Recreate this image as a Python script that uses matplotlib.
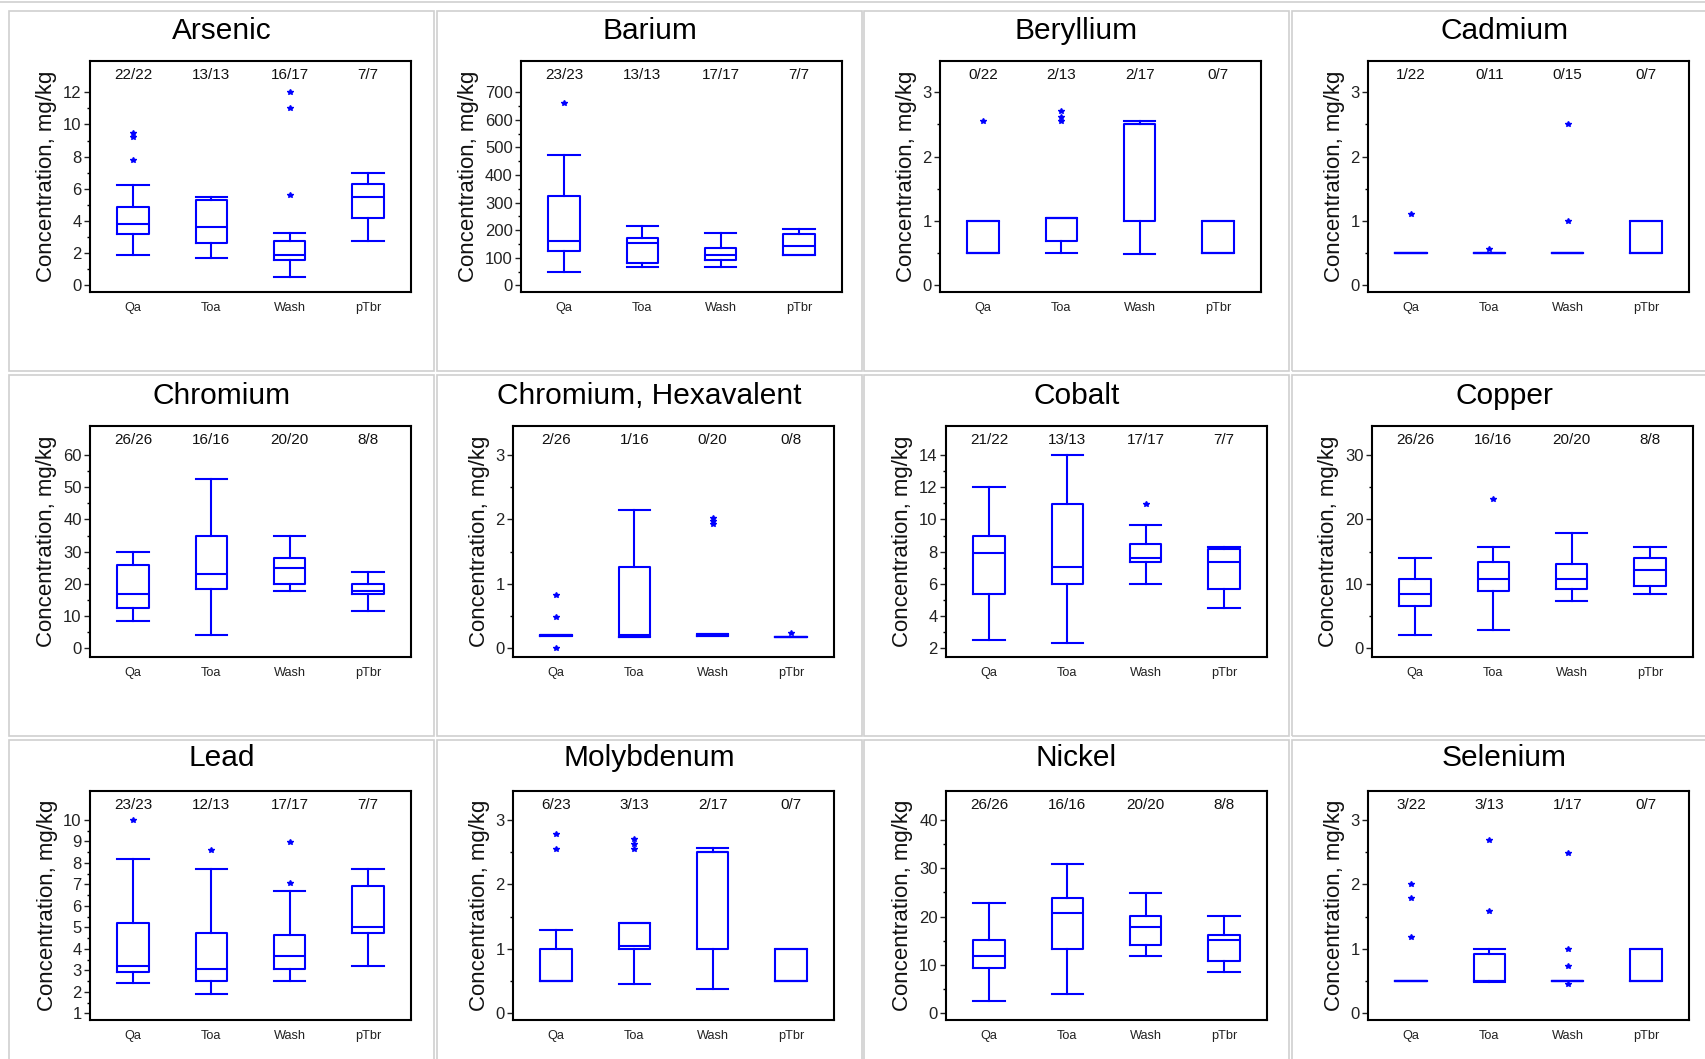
import matplotlib
matplotlib.use("Agg")
import numpy as np
import matplotlib.pyplot as plt
from matplotlib.patches import Rectangle

plt.rcParams['font.family'] = ['Liberation Sans', 'DejaVu Sans']

# ---------------- data ----------------
groups = ["Qa", "Toa", "Wash", "pTbr"]
elements = ["Arsenic", "Barium", "Beryllium", "Cadmium",
            "Chromium", "Chromium, Hexavalent", "Cobalt", "Copper",
            "Lead", "Molybdenum", "Nickel", "Selenium"]

# (whisker low, Q1, median, Q3, whisker high) per group
arsenic_stats = [(1.9, 3.17, 3.8, 4.85, 6.24), (1.7, 2.63, 3.6, 5.28, 5.49),
                 (0.54, 1.6, 1.91, 2.76, 3.27), (2.76, 4.21, 5.47, 6.32, 6.96)]
arsenic_fliers = [[7.8, 9.25, 9.45], [], [5.6, 11.05, 12.04], []]
arsenic_counts = ["22/22", "13/13", "16/17", "7/7"]

barium_stats = [(50, 123, 161, 325, 474), (68, 80, 155, 173, 215),
                (68, 93, 111, 135, 191), (110, 110, 141, 185, 203)]
barium_fliers = [[662], [], [], []]
barium_counts = ["23/23", "13/13", "17/17", "7/7"]

beryllium_stats = [(0.5, 0.5, 0.5, 1.0, 1.0), (0.5, 0.69, 1.05, 1.05, 1.05),
                   (0.48, 1.0, 2.5, 2.5, 2.56), (0.5, 0.5, 0.5, 1.0, 1.0)]
beryllium_fliers = [[2.56], [2.56, 2.62, 2.71], [], []]
beryllium_counts = ["0/22", "2/13", "2/17", "0/7"]

cadmium_stats = [(0.5, 0.5, 0.5, 0.5, 0.5), (0.5, 0.5, 0.5, 0.5, 0.5),
                 (0.5, 0.5, 0.5, 0.5, 0.5), (0.5, 0.5, 0.5, 1.0, 1.0)]
cadmium_fliers = [[1.11], [0.56], [1.0, 2.51], []]
cadmium_counts = ["1/22", "0/11", "0/15", "0/7"]

chromium_stats = [(8.4, 12.6, 16.8, 25.8, 30.0), (4.2, 18.4, 23.1, 34.8, 52.7),
                  (17.8, 20.0, 24.8, 27.9, 34.8), (11.5, 16.9, 17.8, 20.0, 23.7)]
chromium_fliers = [[], [], [], []]
chromium_counts = ["26/26", "16/16", "20/20", "8/8"]

chromium6_stats = [(0.19, 0.19, 0.2, 0.21, 0.21), (0.18, 0.18, 0.21, 1.26, 2.14),
                   (0.19, 0.19, 0.2, 0.22, 0.22), (0.18, 0.18, 0.18, 0.18, 0.18)]
chromium6_fliers = [[0.0, 0.49, 0.82], [], [1.93, 1.98, 2.03], [0.24]]
chromium6_counts = ["2/26", "1/16", "0/20", "0/8"]

cobalt_stats = [(2.52, 5.37, 7.9, 8.95, 12.0), (2.33, 5.99, 7.05, 10.94, 14.0),
                (5.99, 7.36, 7.59, 8.5, 9.68), (4.52, 5.68, 7.36, 8.19, 8.29)]
cobalt_fliers = [[], [], [10.96], []]
cobalt_counts = ["21/22", "13/13", "17/17", "7/7"]

copper_stats = [(2.12, 6.57, 8.38, 10.81, 13.97), (2.9, 8.9, 10.81, 13.4, 15.72),
                (7.34, 9.21, 10.81, 13.14, 17.84), (8.43, 9.72, 12.1, 13.97, 15.72)]
copper_fliers = [[], [23.1], [], []]
copper_counts = ["26/26", "16/16", "20/20", "8/8"]

lead_stats = [(2.43, 2.91, 3.2, 5.19, 8.2), (1.88, 2.52, 3.06, 4.72, 7.72),
              (2.52, 3.06, 3.68, 4.64, 6.69), (3.21, 4.72, 5.03, 6.94, 7.72)]
lead_fliers = [[10.0], [8.59], [7.08, 8.99], []]
lead_counts = ["23/23", "12/13", "17/17", "7/7"]

molybdenum_stats = [(0.5, 0.5, 0.5, 1.0, 1.29), (0.45, 1.0, 1.05, 1.4, 1.4),
                    (0.38, 1.0, 2.5, 2.5, 2.56), (0.5, 0.5, 0.5, 1.0, 1.0)]
molybdenum_fliers = [[2.55, 2.79], [2.55, 2.62, 2.7], [], []]
molybdenum_counts = ["6/23", "3/13", "2/17", "0/7"]

nickel_stats = [(2.48, 9.45, 11.9, 15.1, 22.8), (3.93, 13.4, 20.8, 23.9, 30.9),
                (11.9, 14.1, 17.9, 20.1, 24.9), (8.48, 10.9, 15.1, 16.1, 20.1)]
nickel_fliers = [[], [], [], []]
nickel_counts = ["26/26", "16/16", "20/20", "8/8"]

selenium_stats = [(0.5, 0.5, 0.5, 0.5, 0.5), (0.48, 0.5, 0.5, 0.92, 1.0),
                  (0.5, 0.5, 0.5, 0.5, 0.5), (0.5, 0.5, 0.5, 1.0, 1.0)]
selenium_fliers = [[1.19, 1.79, 2.0], [1.59, 2.69], [0.45, 0.73, 1.0, 2.49], []]
selenium_counts = ["3/22", "3/13", "1/17", "0/7"]

all_stats = [arsenic_stats, barium_stats, beryllium_stats, cadmium_stats,
             chromium_stats, chromium6_stats, cobalt_stats, copper_stats,
             lead_stats, molybdenum_stats, nickel_stats, selenium_stats]
all_fliers = [arsenic_fliers, barium_fliers, beryllium_fliers, cadmium_fliers,
              chromium_fliers, chromium6_fliers, cobalt_fliers, copper_fliers,
              lead_fliers, molybdenum_fliers, nickel_fliers, selenium_fliers]
all_counts = [arsenic_counts, barium_counts, beryllium_counts, cadmium_counts,
              chromium_counts, chromium6_counts, cobalt_counts, copper_counts,
              lead_counts, molybdenum_counts, nickel_counts, selenium_counts]

# y tick range (first tick, last tick, step)
y_ticks = [(0, 12, 2), (0, 700, 100), (0, 3, 1), (0, 3, 1),
           (0, 60, 10), (0, 3, 1), (2, 14, 2), (0, 30, 10),
           (1, 10, 1), (0, 3, 1), (0, 40, 10), (0, 3, 1)]

# ---------------- layout (pixels) ----------------
W, H = 1705, 1059
fig = plt.figure(figsize=(W / 100, H / 100), dpi=100)

col_cells = [(9, 434), (437, 862), (864, 1289), (1292, 1717)]
row_cells = [(11, 371), (375, 736), (740, 1100)]
ax_left = [90, 521, 940, 1368, 90, 513, 946, 1372, 90, 513, 946, 1368]
ax_w = 321
row_ax = [(61, 292), (426, 657), (791, 1020)]
row_pads = [(6.7, 31.3), (8.7, 29.0), (6.7, 29.0)]  # bottom, top pad to ticks
title_off = [20, 21, 18]

BLUE = "#0000ff"
GRAY = "#cfcfcf"

# cell borders
for (y0, y1) in row_cells:
    for (x0, x1) in col_cells:
        fig.add_artist(Rectangle((x0 / W, 1 - y1 / H), (x1 - x0) / W, (y1 - y0) / H,
                                 transform=fig.transFigure, fill=False,
                                 ec=GRAY, lw=1.2))
fig.add_artist(plt.Line2D([0, 1], [1 - 1.5 / H, 1 - 1.5 / H],
                          transform=fig.transFigure, color=GRAY, lw=1.2))

positions = [1, 2, 3, 4]
line_kw = dict(color=BLUE, lw=1.5)

for i, name in enumerate(elements):
    r, c = divmod(i, 4)
    top, bot = row_ax[r]
    left = ax_left[i]
    ax = fig.add_axes([left / W, 1 - bot / H, ax_w / W, (bot - top) / H])

    stats = []
    for s, f, g in zip(all_stats[i], all_fliers[i], groups):
        stats.append(dict(whislo=s[0], q1=s[1], med=s[2], q3=s[3], whishi=s[4],
                          fliers=f, label=g))
    ax.bxp(stats, positions=positions, widths=0.4, capwidths=0.4,
           boxprops=line_kw, whiskerprops=line_kw, capprops=line_kw,
           medianprops=line_kw,
           flierprops=dict(marker='*', markersize=4, markerfacecolor=BLUE,
                           markeredgecolor=BLUE, linestyle='none'))

    lo, hi, step = y_ticks[i]
    pb, pt = row_pads[r]
    hpx = bot - top
    k = (hi - lo) / (hpx - pb - pt)
    ax.set_ylim(lo - pb * k, hi + pt * k)
    ax.set_xlim(0.45, 4.55)
    ax.set_yticks(np.arange(lo, hi + step / 2, step))
    ax.set_yticks(np.arange(lo + step / 2, hi, step), minor=True)
    ax.tick_params(axis='y', which='major', direction='out', length=4, width=1,
                   labelsize=12, pad=2, colors='#222222')
    ax.tick_params(axis='y', which='minor', direction='out', length=2, width=1)
    ax.set_xticks(positions)
    ax.set_xticklabels(groups, fontsize=9.2, color='#222222')
    ax.tick_params(axis='x', length=0, pad=7)
    for sp in ax.spines.values():
        sp.set_linewidth(1.5)
        sp.set_color('black')
    ax.set_ylabel("Concentration, mg/kg", fontsize=16, labelpad=4, color='#111111')

    for p, txt in zip(positions, all_counts[i]):
        ax.text(p, 0.94, txt, transform=ax.get_xaxis_transform(), ha='center',
                va='center', fontsize=11, color='#111111')

    x0, x1 = col_cells[c]
    cy = row_cells[r][0] + title_off[r]
    fig.text((x0 + x1) / 2 / W, 1 - cy / H, name,
             ha='center', va='center', fontsize=21.5, color='black')

fig.savefig("out.png", dpi=100)
